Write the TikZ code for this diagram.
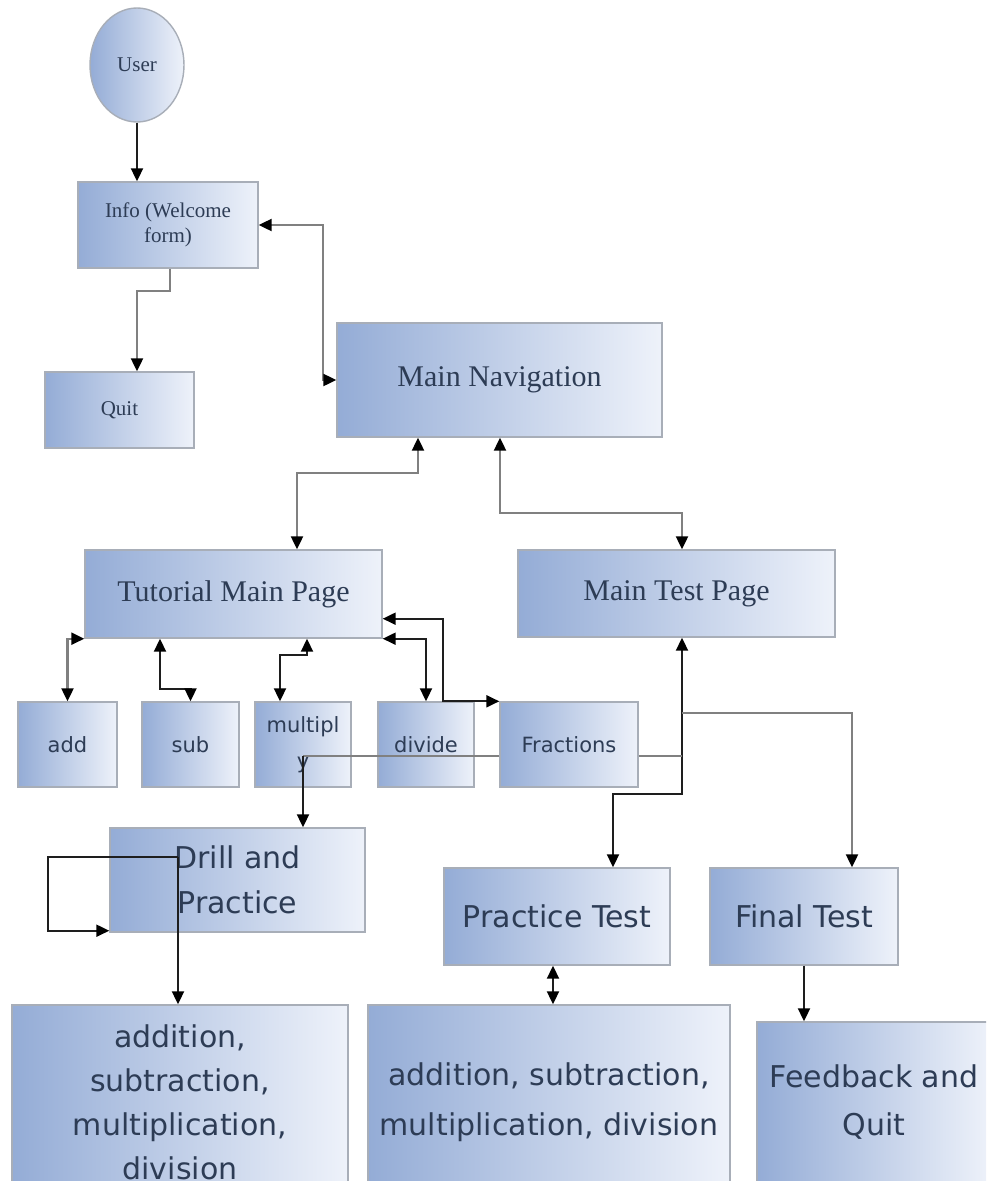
\documentclass[tikz,border=0pt]{standalone}
\usepackage{fontspec}
\setmainfont{Liberation Serif}
\newfontfamily\dvs{DejaVu Sans}
\usetikzlibrary{arrows.meta,shapes.geometric,calc}
\definecolor{txt}{RGB}{45,60,85}
\definecolor{bdr}{RGB}{168,174,184}
\definecolor{shL}{RGB}{148,172,214}
\definecolor{shR}{RGB}{238,242,250}
\definecolor{lng}{RGB}{128,128,128}
\definecolor{lnk}{RGB}{30,30,30}
\tikzset{
  box/.style={draw=bdr, line width=1.4pt, left color=shL, right color=shR, text=txt, inner sep=2pt, align=center},
  serifbig/.style={font=\fontsize{30}{36}\selectfont},
  serifsmall/.style={font=\fontsize{21}{25}\selectfont},
  sanssmall/.style={font=\dvs\fontsize{21}{36}\selectfont},
  sansbig/.style={font=\dvs\fontsize{30}{45}\selectfont},
  conn/.style={draw=lng, line width=2.2pt},
  connk/.style={draw=lnk, line width=2pt},
  arr/.style={-{Triangle[length=13pt,width=12pt,black]}},
  darr/.style={{Triangle[length=13pt,width=12pt,black]}-{Triangle[length=13pt,width=12pt,black]}}
}
\begin{document}
\begin{tikzpicture}[x=1pt,y=-1pt]
\clip (0,0) rectangle (986,1181);
\fill[white] (0,0) rectangle (986,1181);

% nodes
\node[box, ellipse, minimum width=94pt, minimum height=114pt, serifsmall] (user) at (137,65) {User};
\node[box, minimum width=180pt, minimum height=86pt, serifsmall] (info) at (168,225) {Info (Welcome\\form)};
\node[box, minimum width=149pt, minimum height=76pt, serifsmall] (quit) at (119.5,410) {Quit};
\node[box, minimum width=325pt, minimum height=114pt, serifbig] (mainnav) at (499.5,380) {Main Navigation};
\node[box, minimum width=297pt, minimum height=88pt, serifbig] (tutorial) at (233.5,594) {Tutorial Main Page};
\node[box, minimum width=317pt, minimum height=87pt, serifbig] (maintest) at (676.5,593.5) {Main Test Page};

\node[box, minimum width=99pt, minimum height=85pt, sanssmall] (add) at (67.5,744.5) {add};
\node[box, minimum width=97pt, minimum height=85pt, sanssmall] (sub) at (190.5,744.5) {sub};
\node[box, minimum width=96pt, minimum height=85pt, sanssmall] (multipl) at (303,744.5) {multipl\\y};
\node[box, minimum width=96pt, minimum height=85pt, sanssmall] (divide) at (426,744.5) {divide};
\node[box, minimum width=138pt, minimum height=85pt, sanssmall] (fractions) at (569,744.5) {Fractions};

\node[box, minimum width=255pt, minimum height=104pt, sansbig] (drill) at (237.5,880) {Drill and\\Practice};
\node[box, minimum width=226pt, minimum height=97pt, sansbig] (practice) at (557,916.5) {Practice Test};
\node[box, minimum width=188pt, minimum height=97pt, sansbig] (final) at (804,916.5) {Final Test};

\node[box, minimum width=336pt, minimum height=195pt, font=\dvs\fontsize{30}{44}\selectfont] (addL) at (180,1102.5) {addition,\\subtraction,\\multiplication,\\division};
\node[box, minimum width=362pt, minimum height=195pt, font=\dvs\fontsize{30}{50}\selectfont] (addM) at (549,1102.5) {addition, subtraction,\\multiplication, division};
\node[box, minimum width=234pt, minimum height=160pt, font=\dvs\fontsize{30}{48}\selectfont] (feedback) at (874,1102) {Feedback and\\Quit};

% connectors
\draw[connk, arr] (user.south) -- (user.south |- info.north);
\draw[conn, arr] ([xshift=2pt]info.south) -- ++(0,22) -| ([xshift=17.5pt]quit.north);
\draw[conn, darr] (info.east) -- ++(64,0) |- (mainnav.west);
\draw[conn, darr] ([xshift=-81.5pt]mainnav.south) -- ++(0,35) -| ([xshift=63.5pt]tutorial.north);
\draw[conn, darr] ([xshift=0.5pt]mainnav.south) -- ++(0,75) -| ([xshift=5.5pt]maintest.north);

\draw[conn, darr] (tutorial.south west) -| (add.north);
\draw[connk, darr] ([xshift=-73.5pt]tutorial.south) -- ++(0,50) -| (sub.north);
\draw[connk, darr] ([xshift=73.5pt]tutorial.south) -- ++(0,16) -| ([xshift=-23pt]multipl.north);
\draw[connk, darr] (tutorial.south east) -| (divide.north);
\draw[connk, darr] ([yshift=20pt]tutorial.south east) -- ++(60,0) |- (fractions.north west);

\coordinate (j1) at ($(maintest.south)+(5.5,75)$);
\coordinate (j2) at ($(maintest.south)+(5.5,118)$);
\draw[connk, darr] ([xshift=5.5pt]maintest.south) -- ++(0,156) -| ([xshift=56pt]practice.north);
\draw[conn, arr] (j1) -| ([xshift=48pt]final.north);
\draw[conn] (fractions.east |- j2) -- (j2);
\draw[conn] (fractions.west |- j2) -- (j2 -| multipl.north);
\draw[connk, arr] (j2 -| multipl.north) -- (multipl.north |- drill.north);

\coordinate (dl) at (178,857);
\draw[connk, arr] (dl) -- ++(-130,0) |- ([yshift=2pt]drill.south west);
\draw[connk, arr] (dl) -- (dl |- addL.north);

\draw[connk, darr] ([xshift=-4pt]practice.south) -- ([xshift=-4pt]practice.south |- addM.north);
\draw[connk, arr] (final.south) -- (final.south |- feedback.north);
\end{tikzpicture}
\end{document}
